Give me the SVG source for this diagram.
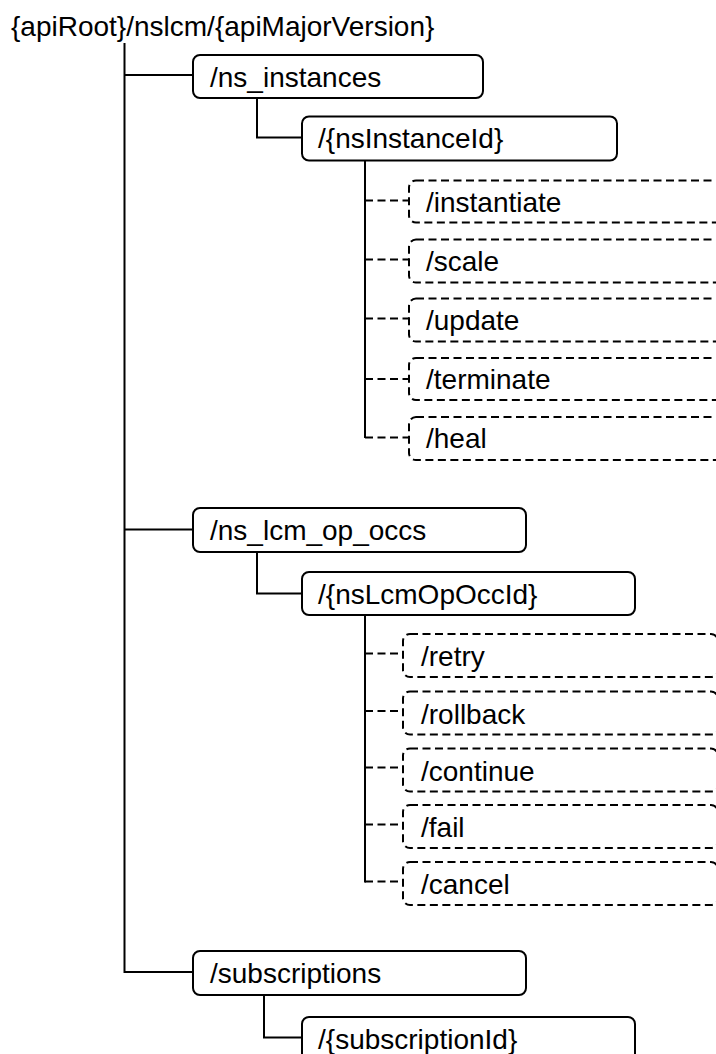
<svg xmlns="http://www.w3.org/2000/svg" width="716" height="1054" viewBox="0 0 716 1054">
<style>
.bg{fill:#fff}
.box{fill:#fff;stroke:#000;stroke-width:2}
.dbox{fill:#fff;stroke:#000;stroke-width:2;stroke-dasharray:8 4.5}
.t{font-family:"Liberation Sans",Arial,sans-serif;font-size:28px;fill:#000}
.ln{fill:none;stroke:#000;stroke-width:2}
.dl{fill:none;stroke:#000;stroke-width:2;stroke-dasharray:8 4.5}
</style>
<rect class="bg" x="0" y="0" width="716" height="1054"/>
<g id="connectors">
  <line class="ln" x1="124.5" y1="43" x2="124.5" y2="973"/>
  <path class="ln" d="M124.5 75H193"/>
  <path class="ln" d="M124.5 529.5H193"/>
  <path class="ln" d="M124.5 972H193"/>
  <path class="ln" d="M257 98V137.5H302"/>
  <path class="ln" d="M257 552V593.5H302"/>
  <path class="ln" d="M264 995V1037.5H302"/>
  <path class="ln" d="M365 161V438"/>
  <path class="dl" d="M365 200.5H409"/>
  <path class="dl" d="M365 259.5H409"/>
  <path class="dl" d="M365 318.5H409"/>
  <path class="dl" d="M365 379H409"/>
  <path class="dl" d="M365 437.5H409"/>
  <path class="ln" d="M365 615V882.5"/>
  <path class="dl" d="M365 653.5H403"/>
  <path class="dl" d="M365 711H403"/>
  <path class="dl" d="M365 767.5H403"/>
  <path class="dl" d="M365 824.5H403"/>
  <path class="dl" d="M365 881.5H403"/>
</g>
<g id="root"><text class="t" x="11" y="36">{apiRoot}/nslcm/{apiMajorVersion}</text></g>
<g id="ns_instances"><rect class="box" x="193" y="55" width="290" height="43" rx="7"/><text class="t" x="210" y="86.5">/ns_instances</text></g>
<g id="nsInstanceId"><rect class="box" x="302" y="116.5" width="315" height="44" rx="7"/><text class="t" x="318" y="148">/{nsInstanceId}</text></g>
<g id="instantiate"><rect class="dbox" x="409" y="180.5" width="316" height="42" rx="7"/><text class="t" x="426" y="211.5">/instantiate</text></g>
<g id="scale"><rect class="dbox" x="409" y="239.5" width="316" height="43" rx="7"/><text class="t" x="426" y="270.5">/scale</text></g>
<g id="update"><rect class="dbox" x="409" y="298.5" width="316" height="43" rx="7"/><text class="t" x="426" y="329.5">/update</text></g>
<g id="terminate"><rect class="dbox" x="409" y="358" width="316" height="42" rx="7"/><text class="t" x="426" y="389">/terminate</text></g>
<g id="heal"><rect class="dbox" x="409" y="417" width="316" height="43" rx="7"/><text class="t" x="426" y="448">/heal</text></g>
<g id="ns_lcm_op_occs"><rect class="box" x="193" y="508" width="333" height="44" rx="7"/><text class="t" x="210" y="540">/ns_lcm_op_occs</text></g>
<g id="nsLcmOpOccId"><rect class="box" x="302" y="572" width="333" height="43" rx="7"/><text class="t" x="318" y="603.5">/{nsLcmOpOccId}</text></g>
<g id="retry"><rect class="dbox" x="403" y="634" width="315" height="43" rx="7"/><text class="t" x="421" y="665.5">/retry</text></g>
<g id="rollback"><rect class="dbox" x="403" y="691.5" width="315" height="43" rx="7"/><text class="t" x="421" y="723.5">/rollback</text></g>
<g id="continue"><rect class="dbox" x="403" y="748.5" width="315" height="43" rx="7"/><text class="t" x="421" y="780.5">/continue</text></g>
<g id="fail"><rect class="dbox" x="403" y="805" width="315" height="43" rx="7"/><text class="t" x="421" y="837">/fail</text></g>
<g id="cancel"><rect class="dbox" x="403" y="862" width="315" height="43" rx="7"/><text class="t" x="421" y="894">/cancel</text></g>
<g id="subscriptions"><rect class="box" x="193" y="951" width="333" height="44" rx="7"/><text class="t" x="210" y="983">/subscriptions</text></g>
<g id="subscriptionId"><rect class="box" x="302" y="1017" width="333" height="44" rx="7"/><text class="t" x="318" y="1049">/{subscriptionId}</text></g>
</svg>
